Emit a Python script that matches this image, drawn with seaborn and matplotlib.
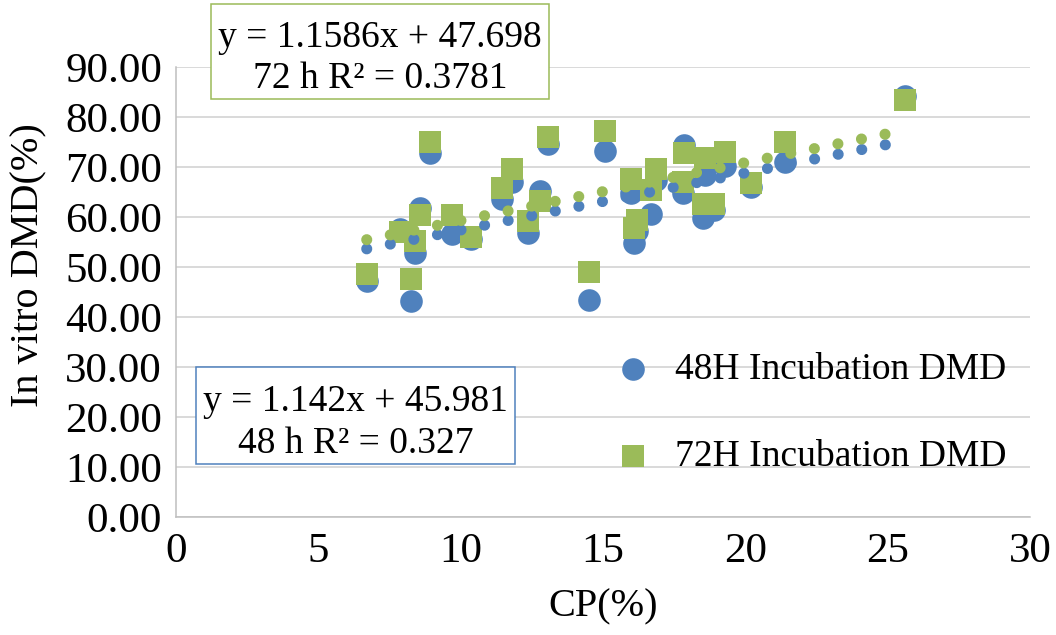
import numpy as np
import pandas as pd
import matplotlib
matplotlib.use("Agg")
import matplotlib.pyplot as plt
from matplotlib.patches import Rectangle
import seaborn as sns

# Crude protein content and in vitro dry-matter digestibility per sample
cp = [6.70, 7.86, 8.26, 8.38, 8.57, 8.92, 9.70, 10.36, 11.45, 11.80,
      12.36, 12.80, 13.07, 14.50, 15.07, 16.00, 16.10, 16.20, 16.70, 16.86,
      17.80, 17.85, 18.50, 18.60, 18.90, 19.30, 20.20, 21.40, 25.60]
dmd_48h = [47.2, 57.6, 43.2, 52.8, 61.8, 72.8, 56.6, 55.6, 63.6, 67.0,
           56.8, 65.2, 74.6, 43.4, 73.2, 64.8, 54.8, 57.2, 60.6, 67.5,
           64.8, 74.4, 59.8, 68.4, 61.4, 70.2, 66.0, 71.0, 84.2]
dmd_72h = [48.6, 57.0, 47.6, 55.2, 60.4, 75.0, 60.4, 56.0, 65.8, 69.6,
           59.2, 63.2, 76.0, 49.0, 77.2, 67.6, 57.8, 59.4, 65.4, 69.6,
           67.0, 72.8, 62.6, 71.8, 62.6, 73.0, 66.8, 75.0, 83.4]

# Linear trendlines (slope, intercept) and their labels
trend_48h = (1.142, 45.981)
trend_72h = (1.1586, 47.698)
eq_48h = ["y = 1.142x + 45.981", "48 h R\u00b2 = 0.327"]
eq_72h = ["y = 1.1586x + 47.698", "72 h R\u00b2 = 0.3781"]

series_names = ["48H Incubation DMD", "72H Incubation DMD"]
x_ticks = [0, 5, 10, 15, 20, 25, 30]
y_ticks = [0, 10, 20, 30, 40, 50, 60, 70, 80, 90]

BLUE = "#4f81bd"
GREEN = "#9bbb59"
GRID = "#d9d9d9"
AXIS = "#bfbfbf"
FS = 27          # legend and equation text
FS_TICK = 31     # tick labels
FS_TITLE = 29    # axis titles

sns.set_style("white")
plt.rcParams["font.family"] = ["Liberation Serif", "DejaVu Serif"]
plt.rcParams["text.color"] = "black"
plt.rcParams["axes.labelcolor"] = "black"
plt.rcParams["lines.scale_dashes"] = False

df = pd.DataFrame({"cp": cp, "h48": dmd_48h, "h72": dmd_72h})

fig = plt.figure(figsize=(10.56, 6.35), dpi=100)
W, H = 1056, 635
ax = fig.add_axes([176 / W, (H - 517) / H, (1030 - 176) / W, (517 - 67) / H])

# Data points: 48 h circles beneath 72 h squares
sns.scatterplot(data=df, x="cp", y="h48", ax=ax, marker="o", s=265,
                color=BLUE, linewidth=0, label=series_names[0], zorder=3)
sns.scatterplot(data=df, x="cp", y="h72", ax=ax, marker="s", s=250,
                color=GREEN, linewidth=0, label=series_names[1], zorder=4)

# Dotted trendlines over the data range
tx = np.array([min(cp), max(cp)])
trend_df = pd.DataFrame({
    "x": tx,
    "y48": trend_48h[0] * tx + trend_48h[1],
    "y72": trend_72h[0] * tx + trend_72h[1],
})
dot_style = dict(linewidth=8, linestyle=(0, (0.01, 17.3)),
                 dash_capstyle="round", legend=False, sort=False,
                 estimator=None)
sns.lineplot(data=trend_df, x="x", y="y48", ax=ax, color=BLUE, zorder=5, **dot_style)
sns.lineplot(data=trend_df, x="x", y="y72", ax=ax, color=GREEN, zorder=6, **dot_style)

# Axes, grid and ticks
ax.set_xlim(0, 30)
ax.set_ylim(0, 90)
ax.set_xticks(x_ticks)
ax.set_yticks(y_ticks)
ax.set_yticklabels([f"{v:.2f}" for v in y_ticks])
ax.yaxis.grid(True, color=GRID, linewidth=1.4, zorder=0)
ax.xaxis.grid(False)
ax.set_axisbelow(True)
for side in ("top", "right"):
    ax.spines[side].set_visible(False)
for side in ("left", "bottom"):
    ax.spines[side].set_color(AXIS)
    ax.spines[side].set_linewidth(1.1)
ax.tick_params(axis="both", which="major", direction="out", length=7,
               width=1.1, color=AXIS, labelsize=FS_TICK, labelcolor="black")
ax.tick_params(axis="x", pad=4)
ax.tick_params(axis="y", pad=3)

ax.set_xlabel("CP(%)", fontsize=FS_TITLE)
ax.set_ylabel("In vitro DMD(%)", fontsize=FS_TITLE)
ax.xaxis.set_label_coords(0.5, -0.158)
ax.yaxis.set_label_coords(-0.150, 0.56)

# Legend without frame
ax.legend(loc="center left", bbox_to_anchor=(614 / W, 1 - 413 / H),
          bbox_transform=fig.transFigure, frameon=False, fontsize=FS,
          handlelength=1.0, handletextpad=0.62, labelspacing=1.40,
          borderpad=0, borderaxespad=0, scatterpoints=1)


def equation_box(x0, y0, x1, y1, lines, baselines, edge):
    fig.patches.append(Rectangle((x0 / W, 1 - y1 / H), (x1 - x0) / W, (y1 - y0) / H,
                                 transform=fig.transFigure, facecolor="white",
                                 edgecolor=edge, linewidth=1.1, zorder=10))
    cx = (x0 + x1) / 2 / W
    for line, base in zip(lines, baselines):
        fig.text(cx, 1 - base / H, line, ha="center", va="baseline",
                 fontsize=FS, zorder=11)


equation_box(211, 4, 549, 99, eq_72h, (47, 88), GREEN)
equation_box(196, 367, 515, 464, eq_48h, (411, 453), BLUE)

fig.savefig("out.png", dpi=100)
